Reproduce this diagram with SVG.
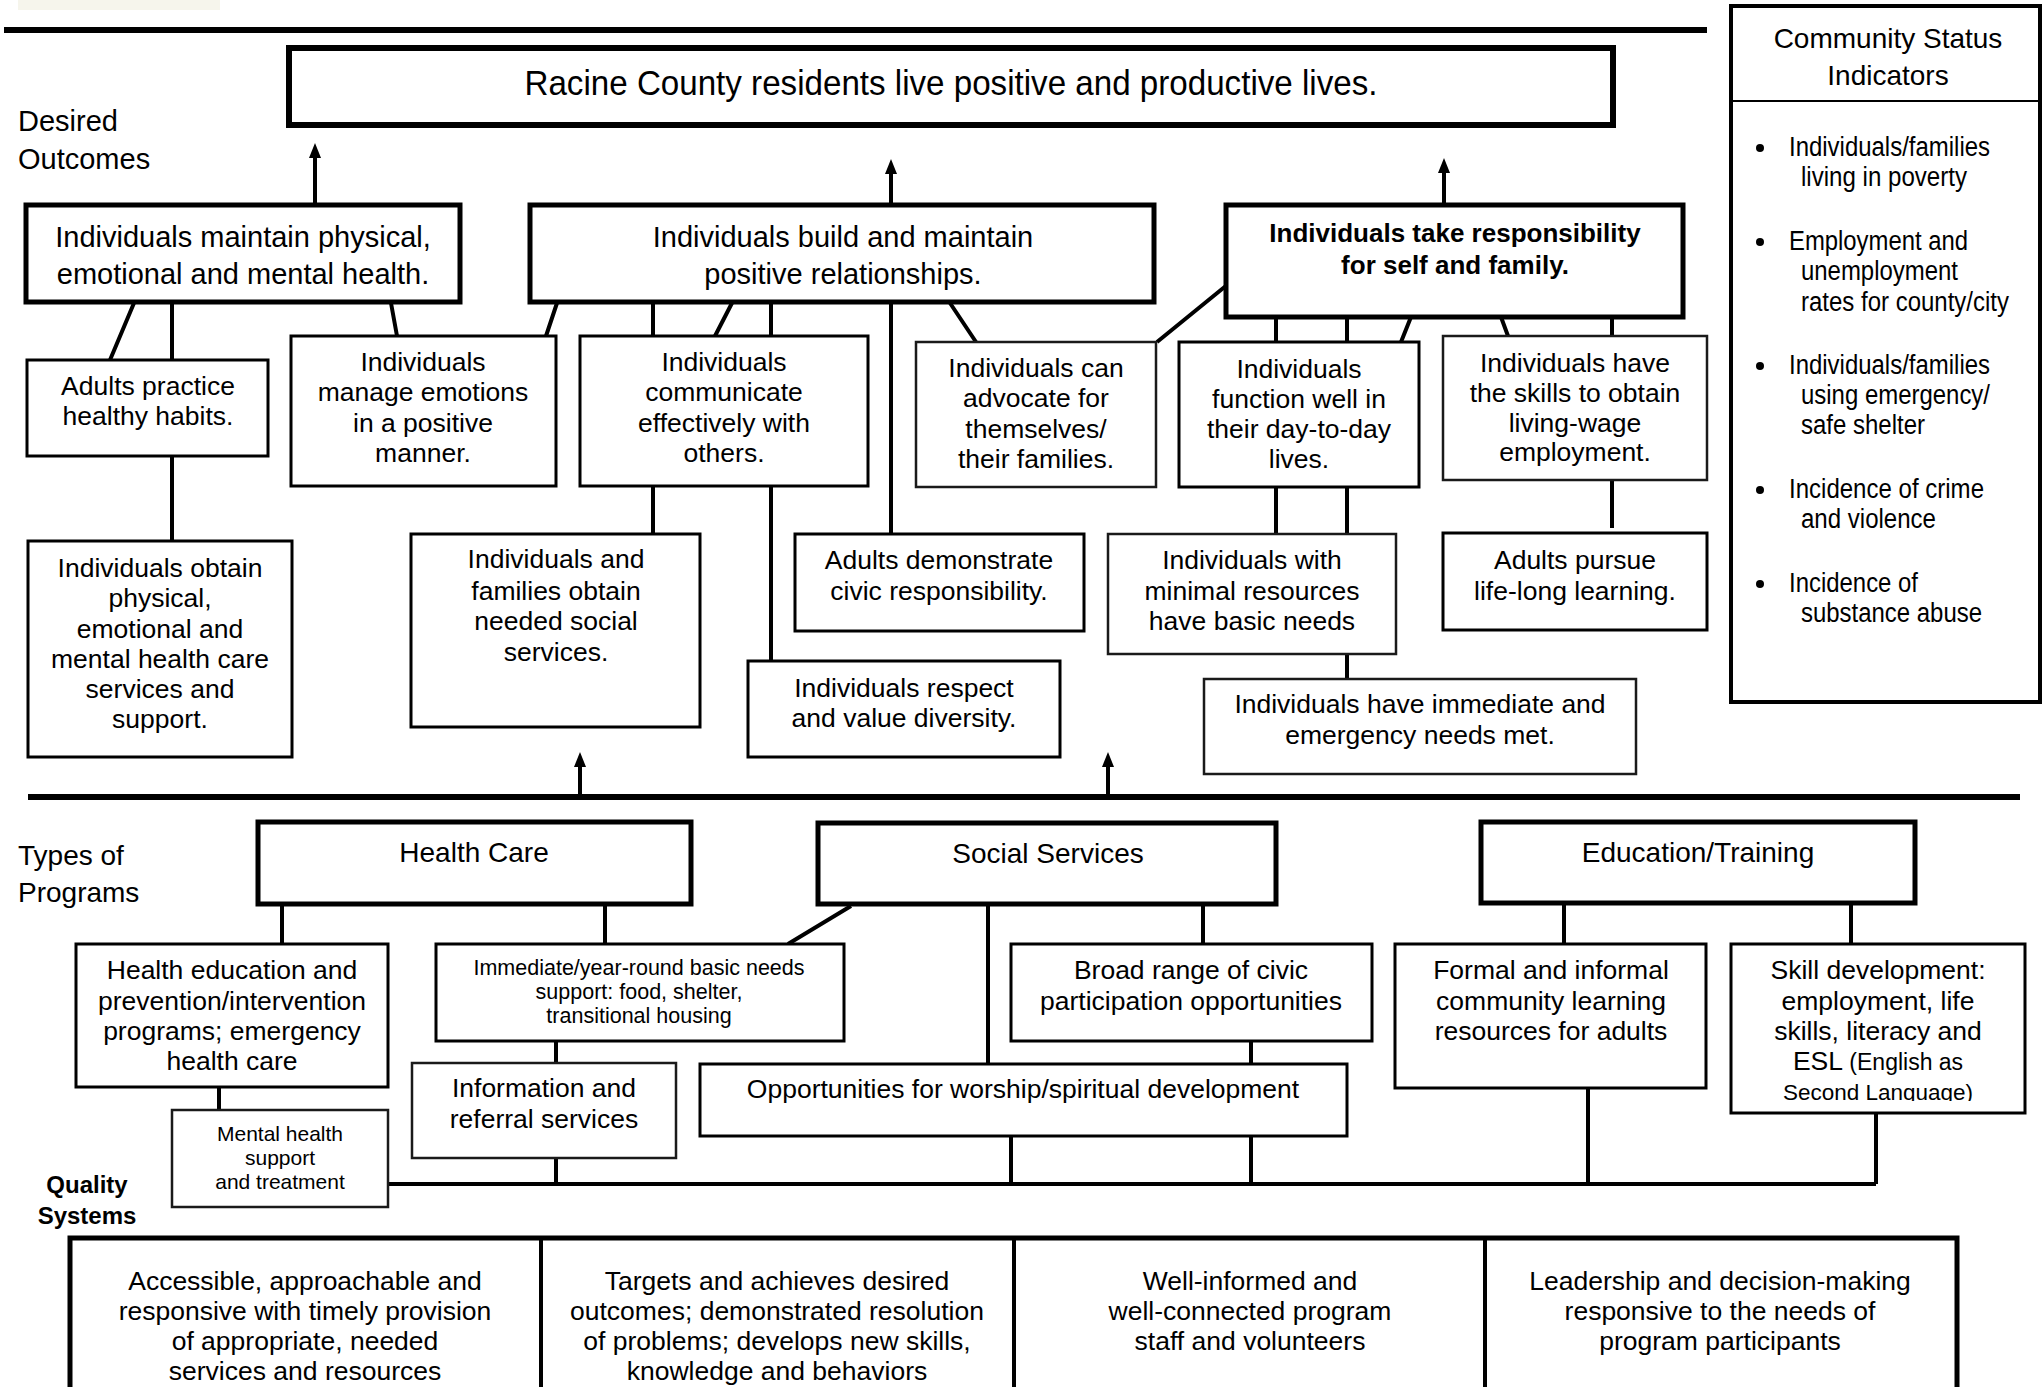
<svg xmlns="http://www.w3.org/2000/svg" width="2043" height="1387" viewBox="0 0 2043 1387">
<style>
text{font-family:"Liberation Sans",Arial,sans-serif;fill:#000}
.c{text-anchor:middle}
.s26{font-size:26.5px}
.s28{font-size:28px}
.s29{font-size:29px}
.s21{font-size:21.5px}
.b{font-weight:bold}
.bxk{fill:#fff;stroke:#000;stroke-width:5}
.bx{fill:#fff;stroke:#000;stroke-width:3}
.bxt{fill:#fff;stroke:#1a1a1a;stroke-width:2.5}
.ln{fill:none;stroke:#000;stroke-width:4;stroke-linecap:butt}
.rule{stroke:#000;stroke-width:6}
.ci{font-size:27px}
</style>
<defs>
<marker id="ah" viewBox="0 0 15 12" refX="3" refY="6" markerWidth="15" markerHeight="12" markerUnits="userSpaceOnUse" orient="auto">
<path d="M0,0 L15,6 L0,12 z" fill="#000"/>
</marker>
<clipPath id="skclip"><rect x="1731" y="945" width="295" height="156"/></clipPath>
</defs>
<rect width="2043" height="1387" fill="#fff"/>
<rect x="18" y="0" width="202" height="10" fill="#f6f5ec"/>

<!-- rules -->
<line class="rule" x1="4" y1="30" x2="1707" y2="30"/>
<line class="rule" x1="28" y1="797" x2="2020" y2="797"/>

<!-- section labels -->
<g id="label-desired"><text class="s29" x="18" y="131">Desired</text><text class="s29" x="18" y="169">Outcomes</text></g>
<g id="label-types"><text class="s28" x="18" y="865">Types of</text><text class="s28" x="18" y="902">Programs</text></g>
<g id="label-quality"><text class="c b" style="font-size:24px" x="87" y="1193">Quality</text><text class="c b" style="font-size:24px" x="87" y="1224">Systems</text></g>

<!-- connectors -->
<g id="connectors">
<path class="ln" d="M134,303 L110,360 M172,303 V361 M172,456 V541 M391,303 L397,336 M557,303 L546,336 M653,303 V336 M732,303 L715,336 M771,303 V336 M771,486 V661 M653,486 V533 M891,303 V533 M950,303 L976,342 M1227,285 L1157,342 M1276,317 V342 M1347,317 V342 M1411,317 L1401,342 M1501,317 L1508,336 M1612,317 V336 M1276,487 V533 M1347,487 V533 M1347,654 V679 M1612,480 V528"/>
<path class="ln" d="M282,904 V944 M605,904 V944 M851,906 L788,944 M988,904 V1064 M1203,904 V944 M1251,1041 V1064 M219,1087 V1110 M556,1041 V1063 M1564,903 V944 M1851,903 V944 M388,1184 H1876 M556,1158 V1184 M1011,1136 V1184 M1251,1136 V1184 M1588,1088 V1184 M1876,1113 V1184"/>
<line class="ln" x1="315" y1="205" x2="315" y2="155" marker-end="url(#ah)"/>
<line class="ln" x1="891" y1="205" x2="891" y2="171" marker-end="url(#ah)"/>
<line class="ln" x1="1444" y1="205" x2="1444" y2="170" marker-end="url(#ah)"/>
<line class="ln" x1="580" y1="797" x2="580" y2="764" marker-end="url(#ah)"/>
<line class="ln" x1="1108" y1="797" x2="1108" y2="764" marker-end="url(#ah)"/>
</g>

<!-- top goal -->
<g id="goal">
<rect x="289" y="48" width="1324" height="77" fill="#fff" stroke="#000" stroke-width="6"/>
<text class="c" style="font-size:35px" x="951" y="95" textLength="853" lengthAdjust="spacingAndGlyphs">Racine County residents live positive and productive lives.</text>
</g>

<!-- desired outcomes -->
<g id="outcome-health">
<rect class="bxk" x="26" y="205" width="434" height="97"/>
<text class="c s29" x="243" y="247">Individuals maintain physical,</text>
<text class="c s29" x="243" y="284">emotional and mental health.</text>
</g>
<g id="outcome-relationships">
<rect class="bxk" x="530" y="205" width="624" height="97"/>
<text class="c s29" x="843" y="247">Individuals build and maintain</text>
<text class="c s29" x="843" y="284">positive relationships.</text>
</g>
<g id="outcome-responsibility">
<rect class="bxk" x="1226" y="205" width="457" height="112"/>
<text class="c b" style="font-size:26px" x="1455" y="242">Individuals take responsibility</text>
<text class="c b" style="font-size:26px" x="1455" y="274">for self and family.</text>
</g>

<!-- row 1 -->
<g id="n-habits">
<rect class="bx" x="27" y="360" width="241" height="96"/>
<text class="c s26" x="148" y="395">Adults practice</text>
<text class="c s26" x="148" y="425">healthy habits.</text>
</g>
<g id="n-emotions">
<rect class="bx" x="291" y="336" width="265" height="150"/>
<text class="c s26" x="423" y="371">Individuals</text>
<text class="c s26" x="423" y="401">manage emotions</text>
<text class="c s26" x="423" y="432">in a positive</text>
<text class="c s26" x="423" y="462">manner.</text>
</g>
<g id="n-communicate">
<rect class="bx" x="580" y="336" width="288" height="150"/>
<text class="c s26" x="724" y="371">Individuals</text>
<text class="c s26" x="724" y="401">communicate</text>
<text class="c s26" x="724" y="432">effectively with</text>
<text class="c s26" x="724" y="462">others.</text>
</g>
<g id="n-advocate">
<rect class="bxt" x="916" y="342" width="240" height="145"/>
<text class="c s26" x="1036" y="377">Individuals can</text>
<text class="c s26" x="1036" y="407">advocate for</text>
<text class="c s26" x="1036" y="438">themselves/</text>
<text class="c s26" x="1036" y="468">their families.</text>
</g>
<g id="n-function">
<rect class="bx" x="1179" y="342" width="240" height="145"/>
<text class="c s26" x="1299" y="378">Individuals</text>
<text class="c s26" x="1299" y="408">function well in</text>
<text class="c s26" x="1299" y="438">their day-to-day</text>
<text class="c s26" x="1299" y="468">lives.</text>
</g>
<g id="n-skills">
<rect class="bxt" x="1443" y="336" width="264" height="144"/>
<text class="c s26" x="1575" y="372">Individuals have</text>
<text class="c s26" x="1575" y="402">the skills to obtain</text>
<text class="c s26" x="1575" y="432">living-wage</text>
<text class="c s26" x="1575" y="461">employment.</text>
</g>

<!-- row 2 -->
<g id="n-obtain-care">
<rect class="bx" x="28" y="541" width="264" height="216"/>
<text class="c s26" x="160" y="577">Individuals obtain</text>
<text class="c s26" x="160" y="607">physical,</text>
<text class="c s26" x="160" y="638">emotional and</text>
<text class="c s26" x="160" y="668">mental health care</text>
<text class="c s26" x="160" y="698">services and</text>
<text class="c s26" x="160" y="728">support.</text>
</g>
<g id="n-social-services">
<rect class="bx" x="411" y="534" width="289" height="193"/>
<text class="c s26" x="556" y="568">Individuals and</text>
<text class="c s26" x="556" y="600">families obtain</text>
<text class="c s26" x="556" y="630">needed social</text>
<text class="c s26" x="556" y="661">services.</text>
</g>
<g id="n-civic">
<rect class="bx" x="795" y="534" width="289" height="97"/>
<text class="c s26" x="939" y="569">Adults demonstrate</text>
<text class="c s26" x="939" y="600">civic responsibility.</text>
</g>
<g id="n-basic">
<rect class="bxt" x="1108" y="534" width="288" height="120"/>
<text class="c s26" x="1252" y="569">Individuals with</text>
<text class="c s26" x="1252" y="600">minimal resources</text>
<text class="c s26" x="1252" y="630">have basic needs</text>
</g>
<g id="n-learning">
<rect class="bx" x="1443" y="533" width="264" height="97"/>
<text class="c s26" x="1575" y="569">Adults pursue</text>
<text class="c s26" x="1575" y="600">life-long learning.</text>
</g>
<g id="n-diversity">
<rect class="bx" x="748" y="661" width="312" height="96"/>
<text class="c s26" x="904" y="697">Individuals respect</text>
<text class="c s26" x="904" y="727">and value diversity.</text>
</g>
<g id="n-emergency">
<rect class="bxt" x="1204" y="679" width="432" height="95"/>
<text class="c s26" x="1420" y="713">Individuals have immediate and</text>
<text class="c s26" x="1420" y="744">emergency needs met.</text>
</g>

<!-- community status indicators -->
<g id="community-indicators">
<rect x="1731" y="6" width="309" height="696" fill="#fff" stroke="#000" stroke-width="4"/>
<line x1="1731" y1="101" x2="2040" y2="101" stroke="#000" stroke-width="2"/>
<text class="c s28" x="1888" y="48">Community Status</text>
<text class="c s28" x="1888" y="85">Indicators</text>
<g fill="#000">
<circle cx="1760" cy="148" r="4"/><circle cx="1760" cy="242" r="4"/><circle cx="1760" cy="366" r="4"/><circle cx="1760" cy="490" r="4"/><circle cx="1760" cy="584" r="4"/>
</g>
<text class="ci" x="1789" y="156" textLength="201" lengthAdjust="spacingAndGlyphs">Individuals/families</text>
<text class="ci" x="1801" y="186" textLength="166" lengthAdjust="spacingAndGlyphs">living in poverty</text>
<text class="ci" x="1789" y="250" textLength="179" lengthAdjust="spacingAndGlyphs">Employment and</text>
<text class="ci" x="1801" y="280" textLength="157" lengthAdjust="spacingAndGlyphs">unemployment</text>
<text class="ci" x="1801" y="311" textLength="208" lengthAdjust="spacingAndGlyphs">rates for county/city</text>
<text class="ci" x="1789" y="374" textLength="201" lengthAdjust="spacingAndGlyphs">Individuals/families</text>
<text class="ci" x="1801" y="404" textLength="189" lengthAdjust="spacingAndGlyphs">using emergency/</text>
<text class="ci" x="1801" y="434" textLength="124" lengthAdjust="spacingAndGlyphs">safe shelter</text>
<text class="ci" x="1789" y="498" textLength="195" lengthAdjust="spacingAndGlyphs">Incidence of crime</text>
<text class="ci" x="1801" y="528" textLength="135" lengthAdjust="spacingAndGlyphs">and violence</text>
<text class="ci" x="1789" y="592" textLength="129" lengthAdjust="spacingAndGlyphs">Incidence of</text>
<text class="ci" x="1801" y="622" textLength="181" lengthAdjust="spacingAndGlyphs">substance abuse</text>
</g>

<!-- program types -->
<g id="p-health-care">
<rect class="bxk" x="258" y="822" width="433" height="82"/>
<text class="c s28" x="474" y="862">Health Care</text>
</g>
<g id="p-social-services">
<rect class="bxk" x="818" y="823" width="458" height="81"/>
<text class="c s28" x="1048" y="863">Social Services</text>
</g>
<g id="p-education">
<rect class="bxk" x="1481" y="822" width="434" height="81"/>
<text class="c s28" x="1698" y="862">Education/Training</text>
</g>

<g id="p-health-ed">
<rect class="bx" x="76" y="944" width="312" height="143"/>
<text class="c s26" x="232" y="979">Health education and</text>
<text class="c s26" x="232" y="1010">prevention/intervention</text>
<text class="c s26" x="232" y="1040">programs; emergency</text>
<text class="c s26" x="232" y="1070">health care</text>
</g>
<g id="p-mental">
<rect class="bxt" x="172" y="1110" width="216" height="97"/>
<text class="c" style="font-size:21px" x="280" y="1141">Mental health</text>
<text class="c" style="font-size:21px" x="280" y="1165">support</text>
<text class="c" style="font-size:21px" x="280" y="1189">and treatment</text>
</g>
<g id="p-basic-needs">
<rect class="bx" x="436" y="944" width="408" height="97"/>
<text class="c s21" x="639" y="975">Immediate/year-round basic needs</text>
<text class="c s21" x="639" y="999">support: food, shelter,</text>
<text class="c s21" x="639" y="1023">transitional housing</text>
</g>
<g id="p-info">
<rect class="bxt" x="412" y="1063" width="264" height="95"/>
<text class="c s26" x="544" y="1097">Information and</text>
<text class="c s26" x="544" y="1128">referral services</text>
</g>
<g id="p-worship">
<rect class="bx" x="700" y="1064" width="647" height="72"/>
<text class="c s26" x="1023" y="1098">Opportunities for worship/spiritual development</text>
</g>
<g id="p-civic">
<rect class="bx" x="1011" y="944" width="361" height="97"/>
<text class="c s26" x="1191" y="979">Broad range of civic</text>
<text class="c s26" x="1191" y="1010">participation opportunities</text>
</g>
<g id="p-formal">
<rect class="bx" x="1395" y="944" width="311" height="144"/>
<text class="c s26" x="1551" y="979">Formal and informal</text>
<text class="c s26" x="1551" y="1010">community learning</text>
<text class="c s26" x="1551" y="1040">resources for adults</text>
</g>
<g id="p-skill">
<rect class="bx" x="1731" y="944" width="294" height="169"/>
<text class="c s26" x="1878" y="979">Skill development:</text>
<text class="c s26" x="1878" y="1010">employment, life</text>
<text class="c s26" x="1878" y="1040">skills, literacy and</text>
<text class="c s26" x="1878" y="1070">ESL <tspan style="font-size:23px">(English as</tspan></text>
<g clip-path="url(#skclip)"><text class="c" style="font-size:22.5px" x="1878" y="1100">Second Language)</text></g>
</g>

<!-- quality systems table -->
<g id="quality-systems">
<rect x="70" y="1238" width="1887" height="200" fill="#fff" stroke="#000" stroke-width="5"/>
<line x1="541" y1="1238" x2="541" y2="1387" stroke="#000" stroke-width="4"/>
<line x1="1014" y1="1238" x2="1014" y2="1387" stroke="#000" stroke-width="4"/>
<line x1="1485" y1="1238" x2="1485" y2="1387" stroke="#000" stroke-width="4"/>
<text class="c s26" x="305" y="1290">Accessible, approachable and</text>
<text class="c s26" x="305" y="1320">responsive with timely provision</text>
<text class="c s26" x="305" y="1350">of appropriate, needed</text>
<text class="c s26" x="305" y="1380">services and resources</text>
<text class="c s26" x="777" y="1290">Targets and achieves desired</text>
<text class="c s26" x="777" y="1320">outcomes; demonstrated resolution</text>
<text class="c s26" x="777" y="1350">of problems; develops new skills,</text>
<text class="c s26" x="777" y="1380">knowledge and behaviors</text>
<text class="c s26" x="1250" y="1290">Well-informed and</text>
<text class="c s26" x="1250" y="1320">well-connected program</text>
<text class="c s26" x="1250" y="1350">staff and volunteers</text>
<text class="c s26" x="1720" y="1290">Leadership and decision-making</text>
<text class="c s26" x="1720" y="1320">responsive to the needs of</text>
<text class="c s26" x="1720" y="1350">program participants</text>
</g>
</svg>
